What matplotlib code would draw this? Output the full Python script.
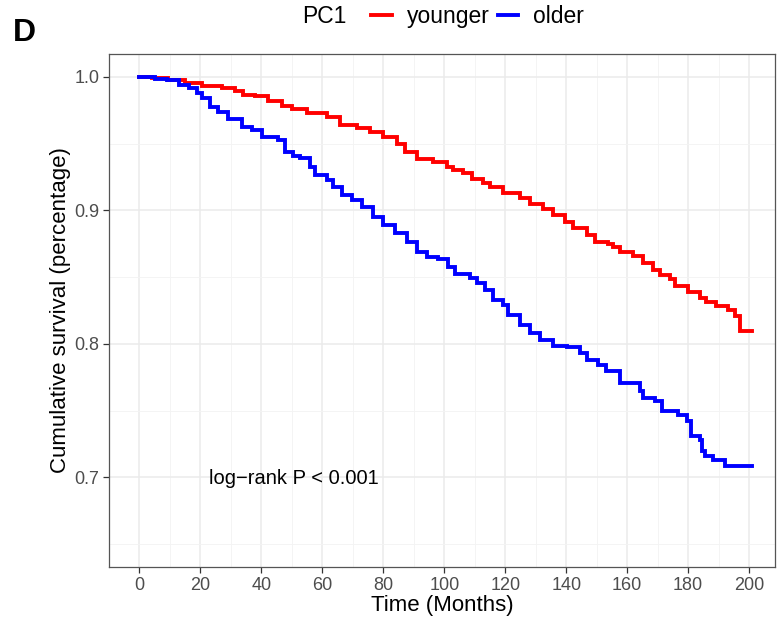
import matplotlib
matplotlib.use("Agg")
import matplotlib.pyplot as plt
from matplotlib.ticker import MultipleLocator

plt.rcParams['font.family'] = ['Liberation Sans', 'DejaVu Sans']

# ---- data ----
groups = ["younger", "older"]
colors = ["#FF0000", "#0000FF"]

young_t = [0, 4, 9.5, 15, 20.5, 27, 31.4, 34.1, 37.9, 42.3, 46.7, 50, 54.9, 61.4, 65.8,
           71.3, 75.6, 80, 84.4, 87.1, 91, 96.4, 100.8, 103, 106.2, 109, 112.8, 115, 119.3,
           124.8, 128.1, 132.5, 135.7, 139.6, 142.3, 146.7, 149.4, 153.8, 155.4, 157.6,
           162, 165.2, 168.5, 170.7, 174, 175.6, 180, 183.8, 186, 189.3, 193.1, 195.3,
           197, 200.8]
young_s = [1.0, 0.999, 0.9975, 0.995, 0.9933, 0.9913, 0.9895, 0.9863, 0.9856, 0.982,
           0.978, 0.9758, 0.9726, 0.9696, 0.9639, 0.9614, 0.9584, 0.9547, 0.950, 0.9439,
           0.9384, 0.9364, 0.9327, 0.9302, 0.9277, 0.9233, 0.9203, 0.9173, 0.9128, 0.909,
           0.9048, 0.9008, 0.8966, 0.8915, 0.8866, 0.8816, 0.8766, 0.8746, 0.8729, 0.8691,
           0.8659, 0.8604, 0.8554, 0.8517, 0.8485, 0.8435, 0.8392, 0.8343, 0.831, 0.8285,
           0.8255, 0.821, 0.810, 0.810]

old_t = [0, 5.1, 9, 12.8, 16.1, 18.8, 20.5, 23.2, 25.9, 29.2, 33.6, 36.9, 40.1, 45.6,
         47.8, 50.5, 52.7, 56, 57.6, 61.4, 63.6, 66.4, 69.6, 72.9, 76.7, 80, 83.8, 87.7,
         91, 94.2, 98, 101.3, 103.5, 108.4, 110.6, 113.3, 116.1, 119.3, 121, 124.8, 128.1,
         131.4, 135.7, 140.1, 144.5, 146.7, 150.5, 153.2, 157.6, 162, 164.2, 165.2, 169.1,
         171.3, 176.7, 179.5, 181.1, 183.8, 184.4, 185.5, 188.2, 192, 200.8]
old_s = [1.0, 0.998, 0.9972, 0.9938, 0.9913, 0.9876, 0.9838, 0.9776, 0.9738, 0.968,
         0.9626, 0.960, 0.955, 0.9527, 0.944, 0.9407, 0.939, 0.9327, 0.9265, 0.9227,
         0.9173, 0.9115, 0.9078, 0.9023, 0.8953, 0.8891, 0.8829, 0.8766, 0.8691, 0.8654,
         0.8634, 0.8579, 0.8524, 0.8492, 0.8455, 0.8405, 0.833, 0.8293, 0.8218, 0.8143,
         0.8081, 0.8031, 0.7981, 0.7976, 0.7931, 0.7881, 0.7844, 0.7794, 0.7711, 0.7707,
         0.7644, 0.7595, 0.7569, 0.7494, 0.747, 0.742, 0.7307, 0.7283, 0.7195, 0.7158,
         0.7133, 0.7083, 0.7083]

x_ticks = [0, 20, 40, 60, 80, 100, 120, 140, 160, 180, 200]
y_ticks = [0.7, 0.8, 0.9, 1.0]
annotation = "log\u2212rank P < 0.001"
annot_pos = (50.6, 0.699)

# ---- figure ----
fig = plt.figure(figsize=(7.77, 6.2), dpi=100)
ax = fig.add_axes([0.1403, 0.0855, 0.8571, 0.8274])

lines = []
for t, s, c, g in [(young_t, young_s, colors[0], groups[0]), (old_t, old_s, colors[1], groups[1])]:
    ln, = ax.step(t, s, where='post', color=c, lw=2.8, label=g, zorder=3,
                  solid_joinstyle='miter')
    lines.append(ln)

ax.set_xlim(-10, 208.5)
ax.set_ylim(0.633, 1.017)
ax.set_xticks(x_ticks)
ax.set_yticks(y_ticks)
ax.set_yticklabels([f"{v:.1f}" for v in y_ticks])
ax.xaxis.set_minor_locator(MultipleLocator(10))
ax.yaxis.set_minor_locator(MultipleLocator(0.05))
ax.grid(which='major', color='#EBEBEB', lw=1.1, zorder=0)
ax.grid(which='minor', color='#F3F3F3', lw=0.6, zorder=0)
ax.set_axisbelow(True)
for sp in ax.spines.values():
    sp.set_color('#555555')
    sp.set_linewidth(0.9)
ax.tick_params(which='major', length=4, width=0.9, color='#333333',
               labelsize=13, labelcolor='#4D4D4D', pad=3)
ax.tick_params(which='minor', length=0)

ax.set_xlabel("Time (Months)", fontsize=16, color='black', labelpad=1)
ax.set_ylabel("Cumulative survival (percentage)", fontsize=16, color='black', labelpad=2)

ax.text(annot_pos[0], annot_pos[1], annotation, fontsize=14.5, ha='center', va='center',
        color='black')

fig.text(0.016, 0.9475, "D", fontsize=23, fontweight='bold', ha='left', va='center',
         color='black', family=['Liberation Sans Narrow', 'Liberation Sans'])

fig.text(0.389, 0.9726, "PC1", fontsize=16.5, ha='left', va='center', color='black')
fig.legend(handles=lines, labels=groups, loc='center left', bbox_to_anchor=(0.478, 0.9726),
           ncol=2, frameon=False, fontsize=16.5, handlelength=0.9, handletextpad=0.65,
           columnspacing=0.35, borderaxespad=0, borderpad=0)

fig.savefig("out.png", dpi=100)
